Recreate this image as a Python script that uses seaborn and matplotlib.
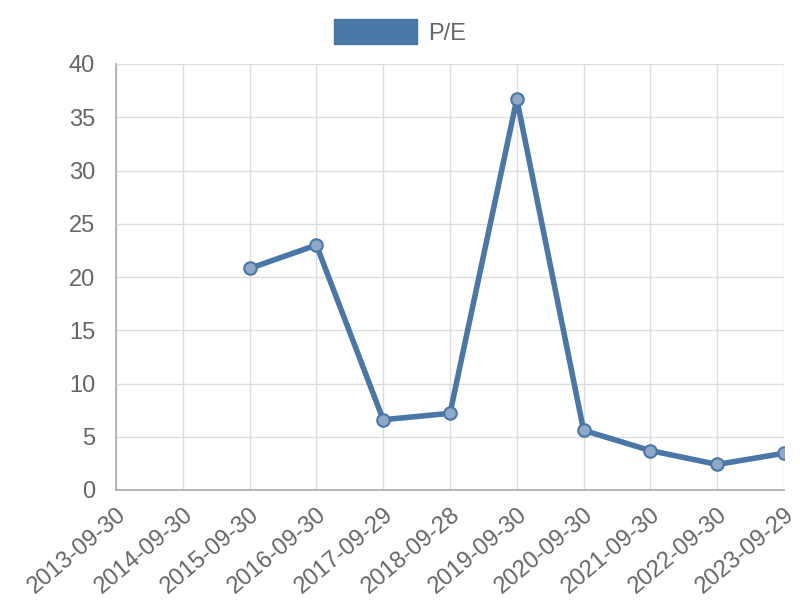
import numpy as np
import pandas as pd
import matplotlib
matplotlib.use("Agg")
import matplotlib.pyplot as plt
import seaborn as sns
from matplotlib.patches import Patch

dates = ["2013-09-30", "2014-09-30", "2015-09-30", "2016-09-30", "2017-09-29",
         "2018-09-28", "2019-09-30", "2020-09-30", "2021-09-30", "2022-09-30",
         "2023-09-29"]
pe = [np.nan, np.nan, 20.8, 23.0, 6.6, 7.2, 36.7, 5.6, 3.7, 2.4, 3.45]
yticks = [0, 5, 10, 15, 20, 25, 30, 35, 40]

sns.set_theme(style="white")
plt.rcParams['font.family'] = ['Liberation Sans', 'DejaVu Sans']

df = pd.DataFrame({"idx": np.arange(len(dates)), "pe": pe})

fig = plt.figure(figsize=(8, 6), dpi=100)
ax = fig.add_axes([116 / 800, 1 - 490 / 600, (784 - 116) / 800, (490 - 64) / 600])

color = "#4a76a8"
sns.lineplot(data=df, x="idx", y="pe", ax=ax, color=color, linewidth=4,
             marker="o", markersize=9, markerfacecolor="#8fa9c9",
             markeredgecolor=color, markeredgewidth=1.5)

ax.set_xlim(0, len(dates) - 1)
ax.set_ylim(0, 40)
ax.set_xticks(np.arange(len(dates)))
ax.set_xticklabels(dates, rotation=40, ha="right", va="top",
                   rotation_mode="anchor", fontsize=17, color="#666666")
ax.set_yticks(yticks)
ax.set_yticklabels([str(v) for v in yticks], fontsize=17, color="#666666")
ax.set_xlabel("")
ax.set_ylabel("")
ax.grid(True, color="#dddddd", linewidth=1)
ax.tick_params(axis="x", length=16, color="#dddddd", width=1, pad=-6)
ax.tick_params(axis="y", length=13, color="#dddddd", width=1, pad=2)
for s in ["top", "right"]:
    ax.spines[s].set_visible(False)
for s in ["left", "bottom"]:
    ax.spines[s].set_color("#aaaaaa")
    ax.spines[s].set_linewidth(1.2)

handle = Patch(facecolor=color, edgecolor=color)
fig.legend(handles=[handle], labels=["P/E"], loc="center",
           bbox_to_anchor=(0.5, 1 - 32 / 600), frameon=False, fontsize=17,
           handlelength=3.5, handleheight=1.2, handletextpad=0.45,
           labelcolor="#666666")

fig.savefig("out.png", dpi=100)
